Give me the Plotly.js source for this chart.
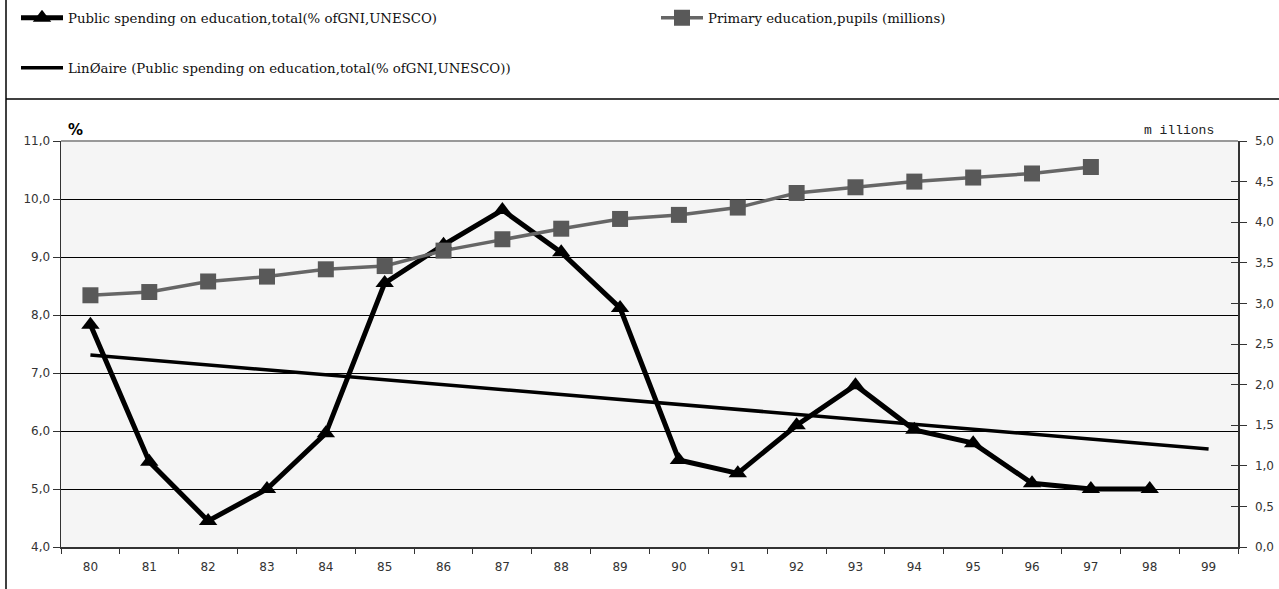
<!DOCTYPE html>
<html>
<head>
<meta charset="utf-8">
<script src="https://cdn.plot.ly/plotly-3.0.1.min.js"></script>
<style>html,body{margin:0;padding:0;background:#fff;}#chart{width:1279px;height:589px;}</style>
</head>
<body>
<div id="chart"></div>
<script>
// ---- data ----
const years = ["80","81","82","83","84","85","86","87","88","89","90","91","92","93","94","95","96","97","98","99"];
const spendingYears = ["80","81","82","83","84","85","86","87","88","89","90","91","92","93","94","95","96","97","98"];
const spending = [7.83, 5.47, 4.45, 5.0, 5.96, 8.55, 9.21, 9.81, 9.08, 8.12, 5.5, 5.27, 6.1, 6.79, 6.02, 5.79, 5.1, 5.0, 5.0];
const pupilsYears = ["80","81","82","83","84","85","86","87","88","89","90","91","92","93","94","95","96","97"];
const pupils = [3.10, 3.14, 3.27, 3.33, 3.42, 3.46, 3.65, 3.79, 3.92, 4.04, 4.09, 4.18, 4.36, 4.43, 4.50, 4.55, 4.60, 4.68];
const trendYears = ["80","99"];
const trend = [7.31, 5.69];
const leftTicks = [4,5,6,7,8,9,10,11];
const rightTicks = [0,0.5,1,1.5,2,2.5,3,3.5,4,4.5,5];
const names = [
  "Public spending on education,total(% ofGNI,UNESCO)",
  "Primary education,pupils (millions)",
  "LinØaire (Public spending on education,total(% ofGNI,UNESCO))"
];

// ---- layout helpers (pixel geometry) ----
const W = 1279, H = 589;
const L = 61, R = 1238, T = 141, B = 547;
const px = x => (x - L) / (R - L);
const py = y => (B - y) / (B - T);

const legendFont = {family: "DejaVu Serif", size: 13.3, color: "#111"};

const traces = [
  {x: spendingYears, y: spending, name: names[0], type: "scatter", mode: "lines+markers",
   line: {color: "#000", width: 5}, marker: {symbol: "triangle-up", size: 16, color: "#000"},
   legend: "legend"},
  {x: trendYears, y: trend, name: names[2], type: "scatter", mode: "lines",
   line: {color: "#000", width: 3.5}, legend: "legend3"},
  {x: pupilsYears, y: pupils, name: names[1], type: "scatter", mode: "lines+markers", yaxis: "y2",
   line: {color: "#666", width: 3.5}, marker: {symbol: "square", size: 16, color: "#595959"},
   legend: "legend2"}
];

const legendBase = {orientation: "h", bgcolor: "rgba(0,0,0,0)", font: legendFont,
  itemwidth: 42, xanchor: "left", yanchor: "middle", itemclick: false};

const layout = {
  width: W, height: H,
  margin: {l: L, r: W - R, t: T, b: H - B, pad: 0, autoexpand: false},
  paper_bgcolor: "#fff",
  plot_bgcolor: "#f5f5f5",
  separators: ",.",
  font: {family: "DejaVu Sans", size: 12, color: "#333"},
  showlegend: true,
  legend: Object.assign({}, legendBase, {x: px(16), y: py(18)}),
  legend2: Object.assign({}, legendBase, {x: px(656), y: py(18)}),
  legend3: Object.assign({}, legendBase, {x: px(16), y: py(68)}),
  xaxis: {type: "category", categoryorder: "array", categoryarray: years,
    range: [-0.5, years.length - 0.5], tickson: "boundaries", ticks: "outside", ticklen: 5,
    tickcolor: "#333", showline: true, linecolor: "#333", linewidth: 1.5, showgrid: false,
    tickfont: {family: "DejaVu Sans", size: 12, color: "#333"}, ticklabelstandoff: 8, fixedrange: true},
  yaxis: {range: [4, 11], tickvals: leftTicks, tickformat: ".1f", ticks: "outside", ticklen: 7,
    tickcolor: "#333", showline: true, linecolor: "#333", linewidth: 1.5,
    showgrid: true, gridcolor: "#000", gridwidth: 1, zeroline: false,
    tickfont: {family: "DejaVu Sans", size: 12, color: "#333"}, fixedrange: true},
  yaxis2: {range: [0, 5], tickvals: rightTicks, tickformat: ".1f", overlaying: "y", side: "right",
    ticks: "outside", ticklen: 7, tickcolor: "#333", showline: true, linecolor: "#333", linewidth: 1.5,
    showgrid: false, zeroline: false, ticklabelstandoff: 6,
    tickfont: {family: "DejaVu Sans", size: 12, color: "#333"}, fixedrange: true},
  yaxis3: {range: [0, 5], tickvals: rightTicks, overlaying: "y", side: "right", ticks: "inside",
    ticklen: 7, tickcolor: "#333", showticklabels: false, showgrid: false, zeroline: false, showline: false},
  shapes: [
    {type: "line", xref: "paper", yref: "paper", x0: px(6), x1: px(6), y0: py(0), y1: py(H), line: {color: "#000", width: 1.5}},
    {type: "line", xref: "paper", yref: "paper", x0: px(6), x1: px(W), y0: py(99), y1: py(99), line: {color: "#000", width: 1.5}},
    {type: "line", xref: "paper", yref: "paper", x0: 0, x1: 1, y0: 1, y1: 1, line: {color: "#999", width: 2}, layer: "above"}
  ],
  annotations: [
    {text: "<b>%</b>", xref: "paper", yref: "paper", x: px(66), y: py(141), xanchor: "left", yanchor: "bottom",
     showarrow: false, font: {family: "DejaVu Sans", size: 15, color: "#000"}},
    {text: "m illions", xref: "paper", yref: "paper", x: px(1216), y: py(131), xanchor: "right", yanchor: "middle",
     showarrow: false, font: {family: "Liberation Mono", size: 13, color: "#222"}}
  ]
};

// dummy trace to activate yaxis3 ticks
traces.push({x: years, y: years.map(() => null), yaxis: "y3", showlegend: false, hoverinfo: "skip", type: "scatter", mode: "lines"});

Plotly.newPlot("chart", traces, layout, {displayModeBar: false, staticPlot: true});
</script>
</body>
</html>
